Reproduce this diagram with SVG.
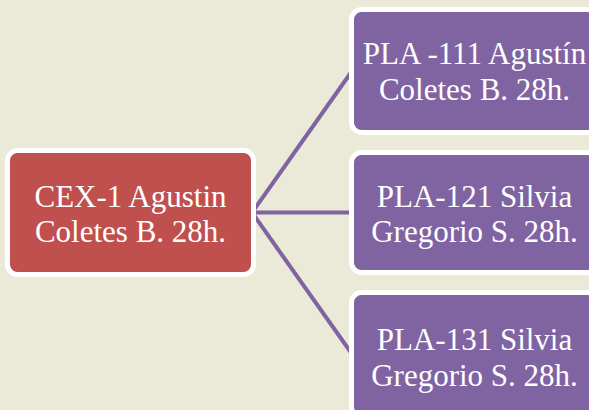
<svg xmlns="http://www.w3.org/2000/svg" width="589" height="410" viewBox="0 0 589 410">
<style>
.bg{fill:#EBE9D7}
.red{fill:#C0504D;stroke:#FFFFFF;stroke-width:5}
.pur{fill:#8064A2;stroke:#FFFFFF;stroke-width:5}
.conn{stroke:#8064A2;stroke-width:4;fill:none}
text{font-family:"Liberation Serif","Times New Roman",serif;font-size:31px;fill:#FFFFFF;text-anchor:middle}
</style>
<rect class="bg" x="0" y="0" width="589" height="410"/>
<g id="connectors">
<line class="conn" x1="252" y1="212.5" x2="352" y2="71"/>
<line class="conn" x1="252" y1="212.5" x2="352" y2="212.5"/>
<line class="conn" x1="252" y1="212.5" x2="352" y2="354"/>
</g>
<g id="cex1">
<rect class="red" x="7.5" y="150.5" width="246" height="124" rx="10"/>
<text x="130.5" y="206.5">CEX-1 Agustin</text>
<text x="130.5" y="241.5">Coletes B. 28h.</text>
</g>
<g id="pla111">
<rect class="pur" x="351.5" y="9.5" width="246" height="123" rx="10"/>
<text x="474.5" y="63.5">PLA -111 Agustín</text>
<text x="474.5" y="99.5">Coletes B. 28h.</text>
</g>
<g id="pla121">
<rect class="pur" x="351.5" y="152.5" width="246" height="120" rx="10"/>
<text x="474.5" y="206.5">PLA-121 Silvia</text>
<text x="474.5" y="241.5">Gregorio S. 28h.</text>
</g>
<g id="pla131">
<rect class="pur" x="351.5" y="292.5" width="246" height="124" rx="10"/>
<text x="474.5" y="350">PLA-131 Silvia</text>
<text x="474.5" y="386">Gregorio S. 28h.</text>
</g>
</svg>
